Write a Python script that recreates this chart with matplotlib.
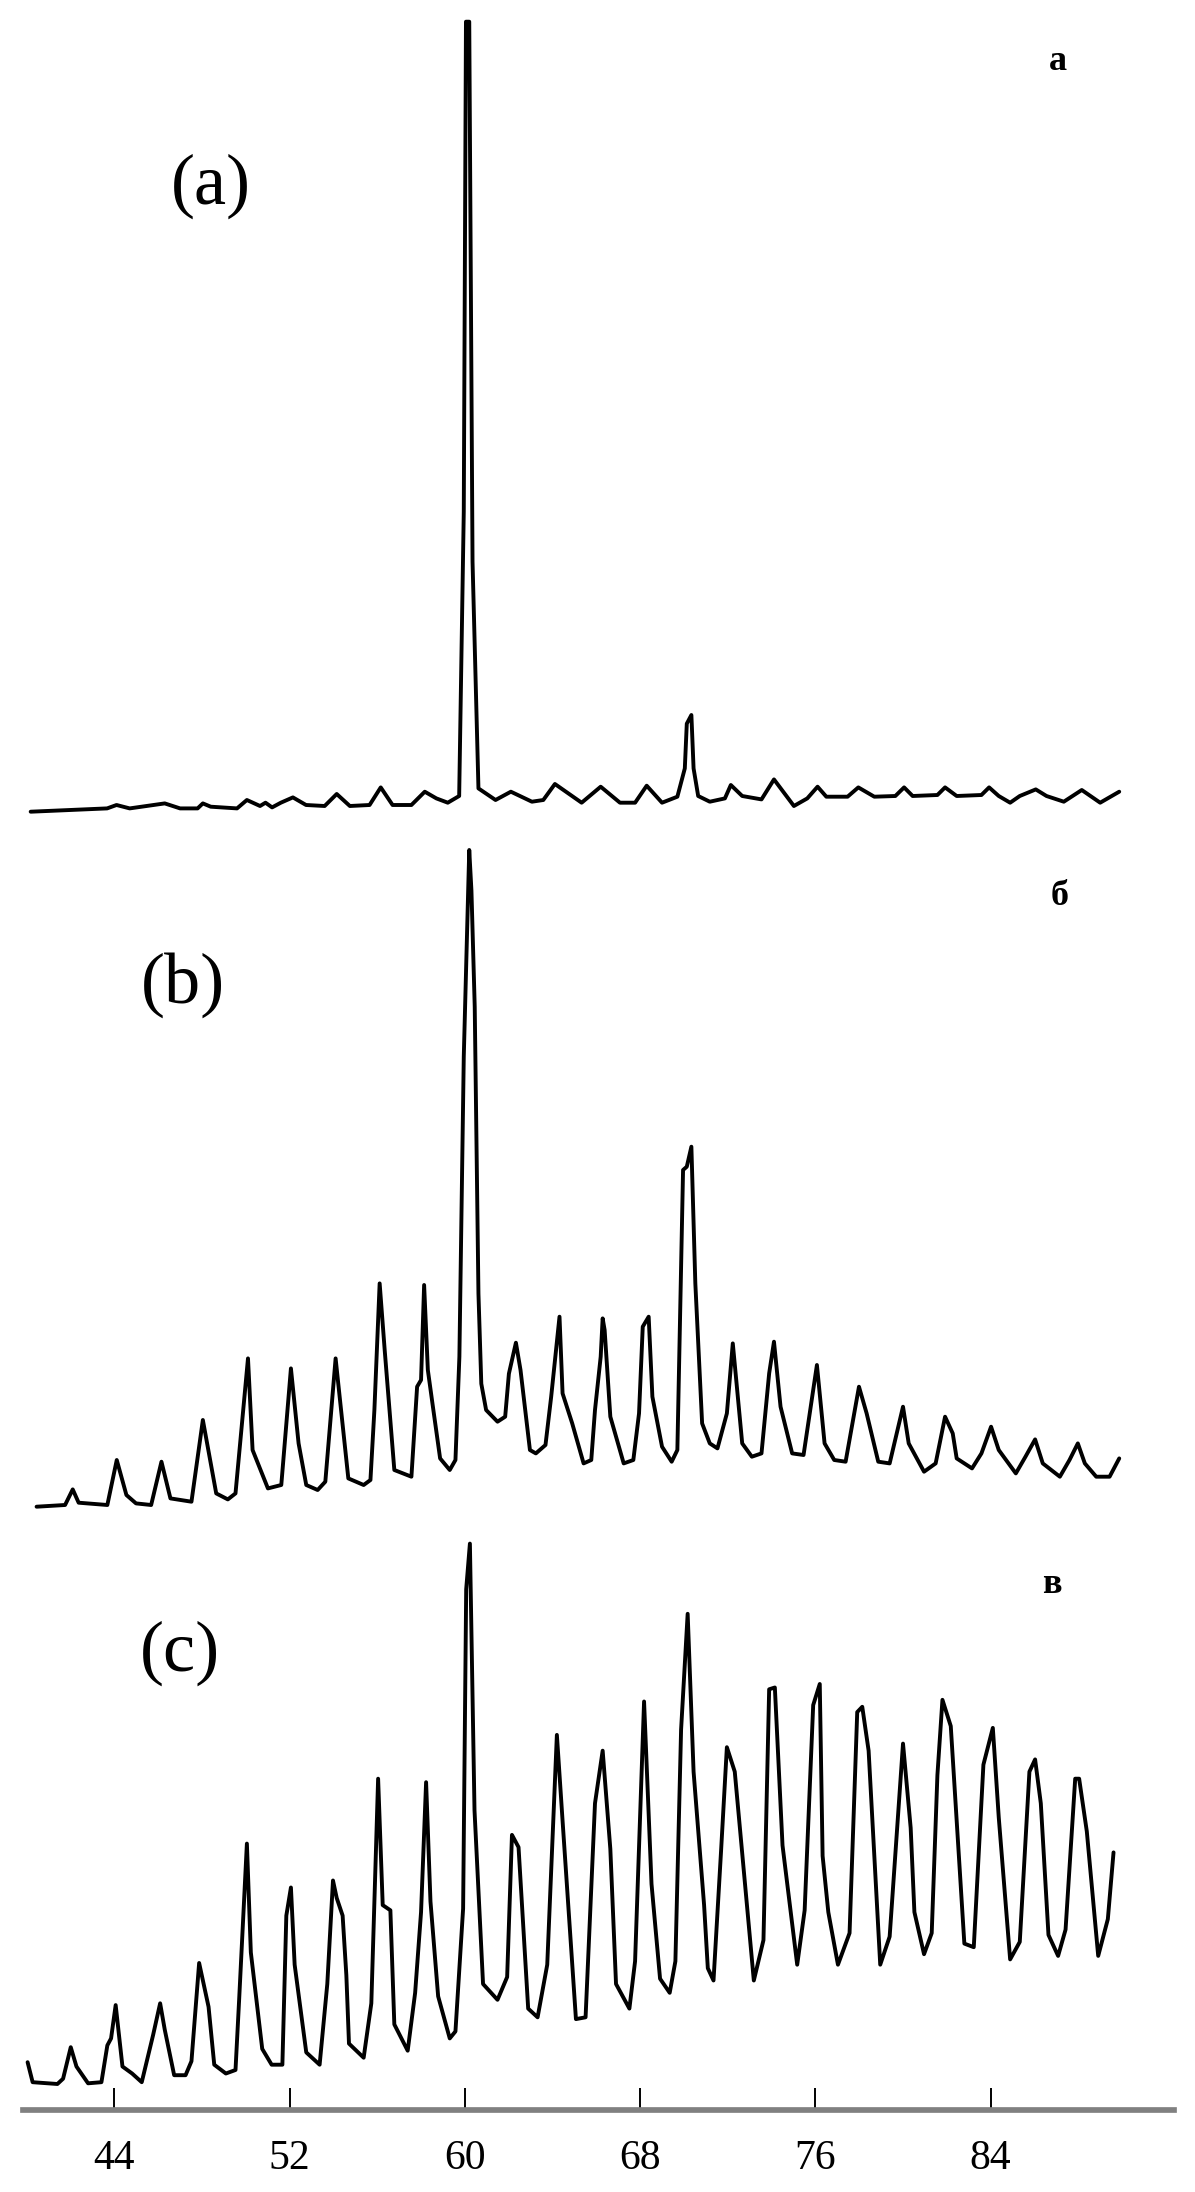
# coding:utf-8
# stacked spectra a / b / c, shared x axis at the bottom

import matplotlib
matplotlib.use("Agg")
import matplotlib.pyplot as plt

# spectrum a (x, intensity a.u.)
xa = [40.18, 43.67, 44.1, 44.7, 46.3, 47.0, 47.8, 48.04, 48.4, 49.6,
      50.05, 50.65, 50.9, 51.2, 51.6, 52.15, 52.75, 53.6, 54.15, 54.75,
      55.65, 56.16, 56.7, 57.56, 58.17, 58.7, 59.22, 59.74, 59.95, 60.05,
      60.2, 60.35, 60.62, 61.4, 62.1, 63.06, 63.58, 64.11, 65.33, 66.2,
      67.08, 67.77, 68.3, 69.0, 69.7, 70.04, 70.13, 70.34, 70.44, 70.65,
      71.18, 71.87, 72.14, 72.66, 73.54, 74.11, 75.02, 75.63, 76.1, 76.5,
      77.47, 77.96, 78.69, 79.65, 80.05, 80.44, 81.57, 81.92, 82.45, 83.58,
      83.93, 84.37, 84.89, 85.33, 86.06, 86.55, 87.34, 88.16, 89.0, 89.87]
ya = [0, 3.3, 6.7, 3.3, 8.3, 3.3, 3.3, 8.3, 5, 3.3,
      11.7, 5.7, 9, 4.3, 9, 14.3, 6.7, 5.7, 17.7, 5.7,
      6.7, 24.3, 6.7, 6.7, 20, 13.3, 9, 15.7, 300, 790,
      790, 250, 23.3, 11.7, 20, 10, 11.7, 27.7, 9, 25,
      9, 9, 26, 9, 15, 43.3, 88, 96.7, 43.3, 15.7,
      10, 13.3, 26.7, 15.7, 12.3, 32.3, 5.7, 13.3, 25, 15,
      15, 24.3, 15, 15.7, 24.3, 15.7, 16.7, 24.3, 15.7, 16.7,
      24.3, 15.7, 9, 15.7, 22.3, 15.7, 10, 21.7, 9, 20]

# spectrum b
xb = [40.45, 41.75, 42.1, 42.37, 43.68, 44.11, 44.55, 44.99, 45.68, 46.15,
      46.56, 47.52, 48.04, 48.65, 49.18, 49.53, 50.1, 50.31, 51.01, 51.62,
      52.06, 52.41, 52.76, 53.28, 53.63, 54.1, 54.22, 54.68, 55.38, 55.69,
      55.87, 56.11, 56.34, 56.78, 57.56, 57.82, 58.0, 58.14, 58.31, 58.52,
      58.87, 59.31, 59.57, 59.75, 59.95, 60.2, 60.3, 60.45, 60.62, 60.75,
      60.97, 61.49, 61.84, 62.01, 62.33, 62.54, 62.97, 63.24, 63.68, 63.94,
      64.32, 64.46, 64.9, 65.42, 65.77, 65.94, 66.2, 66.29, 66.38, 66.64,
      67.25, 67.69, 67.95, 68.12, 68.39, 68.56, 69.0, 69.44, 69.7, 69.96,
      70.13, 70.34, 70.52, 70.83, 71.18, 71.53, 71.96, 72.23, 72.66, 73.1,
      73.54, 73.89, 74.11, 74.41, 74.94, 75.46, 76.07, 76.42, 76.86, 77.38,
      77.99, 78.34, 78.87, 79.39, 80.0, 80.26, 80.96, 81.49, 81.92, 82.27,
      82.45, 83.15, 83.58, 84.02, 84.37, 85.15, 85.59, 86.03, 86.38, 87.16,
      87.6, 87.98, 88.3, 88.82, 89.43, 89.87]
yb = [0, 1.7, 17.3, 4, 1.7, 46.7, 11.7, 3.3, 1.7, 45,
      8.3, 5, 86.7, 13.3, 7.3, 13.3, 148.3, 56.7, 18.3, 21.7,
      138.3, 63.3, 21.7, 16.7, 25, 148.3, 123.3, 28.3, 21.7, 26.7,
      96.7, 223.3, 156.7, 36.7, 30, 120, 126.7, 221.7, 136.7, 103.3,
      48.3, 36.7, 46.7, 150, 450, 656.7, 616, 500, 213, 123,
      96.7, 85, 90, 133, 164, 136.7, 56.7, 53.3, 61.7, 110,
      190, 113.3, 83.3, 43.3, 46.7, 96.7, 150, 188.3, 176.7, 90,
      43.3, 46.7, 93.3, 180, 190, 110, 60, 45, 56.7, 336.7,
      340, 360, 223.3, 83.3, 63.3, 58.3, 93.3, 163.3, 63.3, 50,
      53.3, 133.3, 165, 100, 53.3, 51.7, 141.7, 63.3, 46.7, 45,
      120, 93.3, 45, 43.3, 100, 63.3, 35, 43.3, 90, 73.3,
      48.3, 38.3, 53.3, 80, 56.7, 33.3, 50, 67.3, 43.3, 30,
      46.7, 63.3, 43.3, 30, 30, 48.3]

# spectrum c
xc = [40.04, 40.27, 41.4, 41.66, 42.01, 42.27, 42.8, 43.41, 43.68, 43.85,
      44.06, 44.37, 44.81, 45.25, 45.77, 46.09, 46.3, 46.73, 47.25, 47.52,
      47.87, 48.3, 48.56, 49.09, 49.53, 49.7, 50.05, 50.23, 50.75, 51.18,
      51.67, 51.85, 52.06, 52.23, 52.76, 53.37, 53.72, 53.98, 54.15, 54.42,
      54.59, 54.71, 55.38, 55.73, 56.04, 56.25, 56.6, 56.78, 57.39, 57.73,
      58.0, 58.23, 58.43, 58.78, 59.31, 59.57, 59.92, 60.06, 60.23, 60.44,
      60.83, 61.49, 61.93, 62.15, 62.45, 62.89, 63.32, 63.76, 64.02, 64.2,
      64.46, 65.07, 65.51, 65.94, 66.29, 66.64, 66.9, 67.51, 67.77, 68.18,
      68.52, 68.91, 69.35, 69.61, 69.87, 70.17, 70.44, 70.92, 71.09, 71.35,
      71.7, 71.96, 72.32, 73.19, 73.63, 73.89, 74.15, 74.5, 75.17, 75.51,
      75.9, 76.2, 76.33, 76.59, 77.03, 77.56, 77.91, 78.14, 78.43, 78.96,
      79.39, 80.0, 80.35, 80.52, 80.96, 81.31, 81.57, 81.8, 82.18, 82.8,
      83.23, 83.67, 84.1, 84.37, 84.89, 85.33, 85.77, 86.03, 86.29, 86.64,
      87.08, 87.42, 87.86, 88.04, 88.39, 88.91, 89.35, 89.61]
yc = [21.8, 1.8, 0, 5.3, 36.8, 17.5, 0.7, 1.8, 38.6, 45.6,
      78.9, 17.5, 10.5, 1.8, 49.1, 80.7, 54.4, 8.8, 8.8, 22.8,
      121, 77.2, 19.3, 10.5, 14, 86, 240.4, 131.6, 35.1, 19.3,
      19.3, 168.4, 196.5, 119.3, 31.6, 19.3, 100, 203.5, 186, 168.4,
      108.8, 40.4, 26.3, 80.7, 305.3, 178.9, 173.7, 59.6, 33.3, 91.2,
      171.9, 301.8, 182.5, 87.7, 45.6, 52.6, 175.4, 494.7, 540.4, 273.7,
      100, 84.2, 107, 249.1, 236.8, 75.4, 66.7, 119.3, 256.1, 349.1,
      263.2, 64.9, 66.7, 280.7, 333.3, 235.1, 100, 75.4, 122.8, 382.5,
      200, 105.3, 91.2, 122.8, 354.4, 470.2, 312.3, 178.9, 115.8, 103.5,
      235.1, 336.8, 312.3, 103.5, 143.9, 394.7, 396.5, 238.6, 119.3, 173.7,
      378.9, 400, 228.1, 171.9, 119.3, 150.9, 371.9, 377.2, 333.3, 119.3,
      147.4, 340.4, 256.1, 171.9, 129.8, 150.9, 308.8, 384.2, 357.9, 140.4,
      136.8, 319.3, 356.1, 266.7, 124.6, 142.1, 312.3, 324.6, 280.7, 149.1,
      128.1, 154.4, 305.3, 305.3, 252.6, 128.1, 164.9, 231.6]

xticks = [44, 52, 60, 68, 76, 84]
panel_tags = ["(a)", "(b)", "(c)"]
panel_names = ["а", "б", "в"]

W, H = 1195, 2192
fig = plt.figure(figsize=(W / 100, H / 100), dpi=100)
serif = ["Liberation Serif", "DejaVu Serif"]

ax = fig.add_axes([23 / W, 82 / H, 1151 / W, 2110 / H])
ax.set_xlim(39.83, 92.37)
ax.set_ylim(0, 2110)

# vertical offsets of the stacked curves
offsets = [1298.3, 603.3, 26]
for (x, y), off in zip([(xa, ya), (xb, yb), (xc, yc)], offsets):
    ax.plot(x, [v + off for v in y], color="black", lw=2.8,
            solid_joinstyle="round", solid_capstyle="round", clip_on=False)

for s in ["left", "right", "top"]:
    ax.spines[s].set_visible(False)
ax.spines["bottom"].set_color("#808080")
ax.spines["bottom"].set_linewidth(4.1)
ax.set_yticks([])
ax.set_xticks(xticks)
ax.set_xticklabels([str(t) for t in xticks], family=serif)
ax.tick_params(axis="x", direction="in", length=16, width=1.4,
               color="black", labelsize=30, pad=21)

# (a) (b) (c) tags and the small cyrillic letters
tag_pos = [(211, 186), (183, 985), (180, 1653)]
for t, (px, py) in zip(panel_tags, tag_pos):
    fig.text(px / W, 1 - py / H, t, fontsize=52, family=serif,
             ha="center", va="center")

name_pos = [(1058, 70), (1060, 905), (1052, 1593)]
for t, (px, py) in zip(panel_names, name_pos):
    fig.text(px / W, 1 - py / H, t, fontsize=26, family=serif,
             weight="bold", ha="center", va="baseline")

fig.savefig("out.png", dpi=100)
